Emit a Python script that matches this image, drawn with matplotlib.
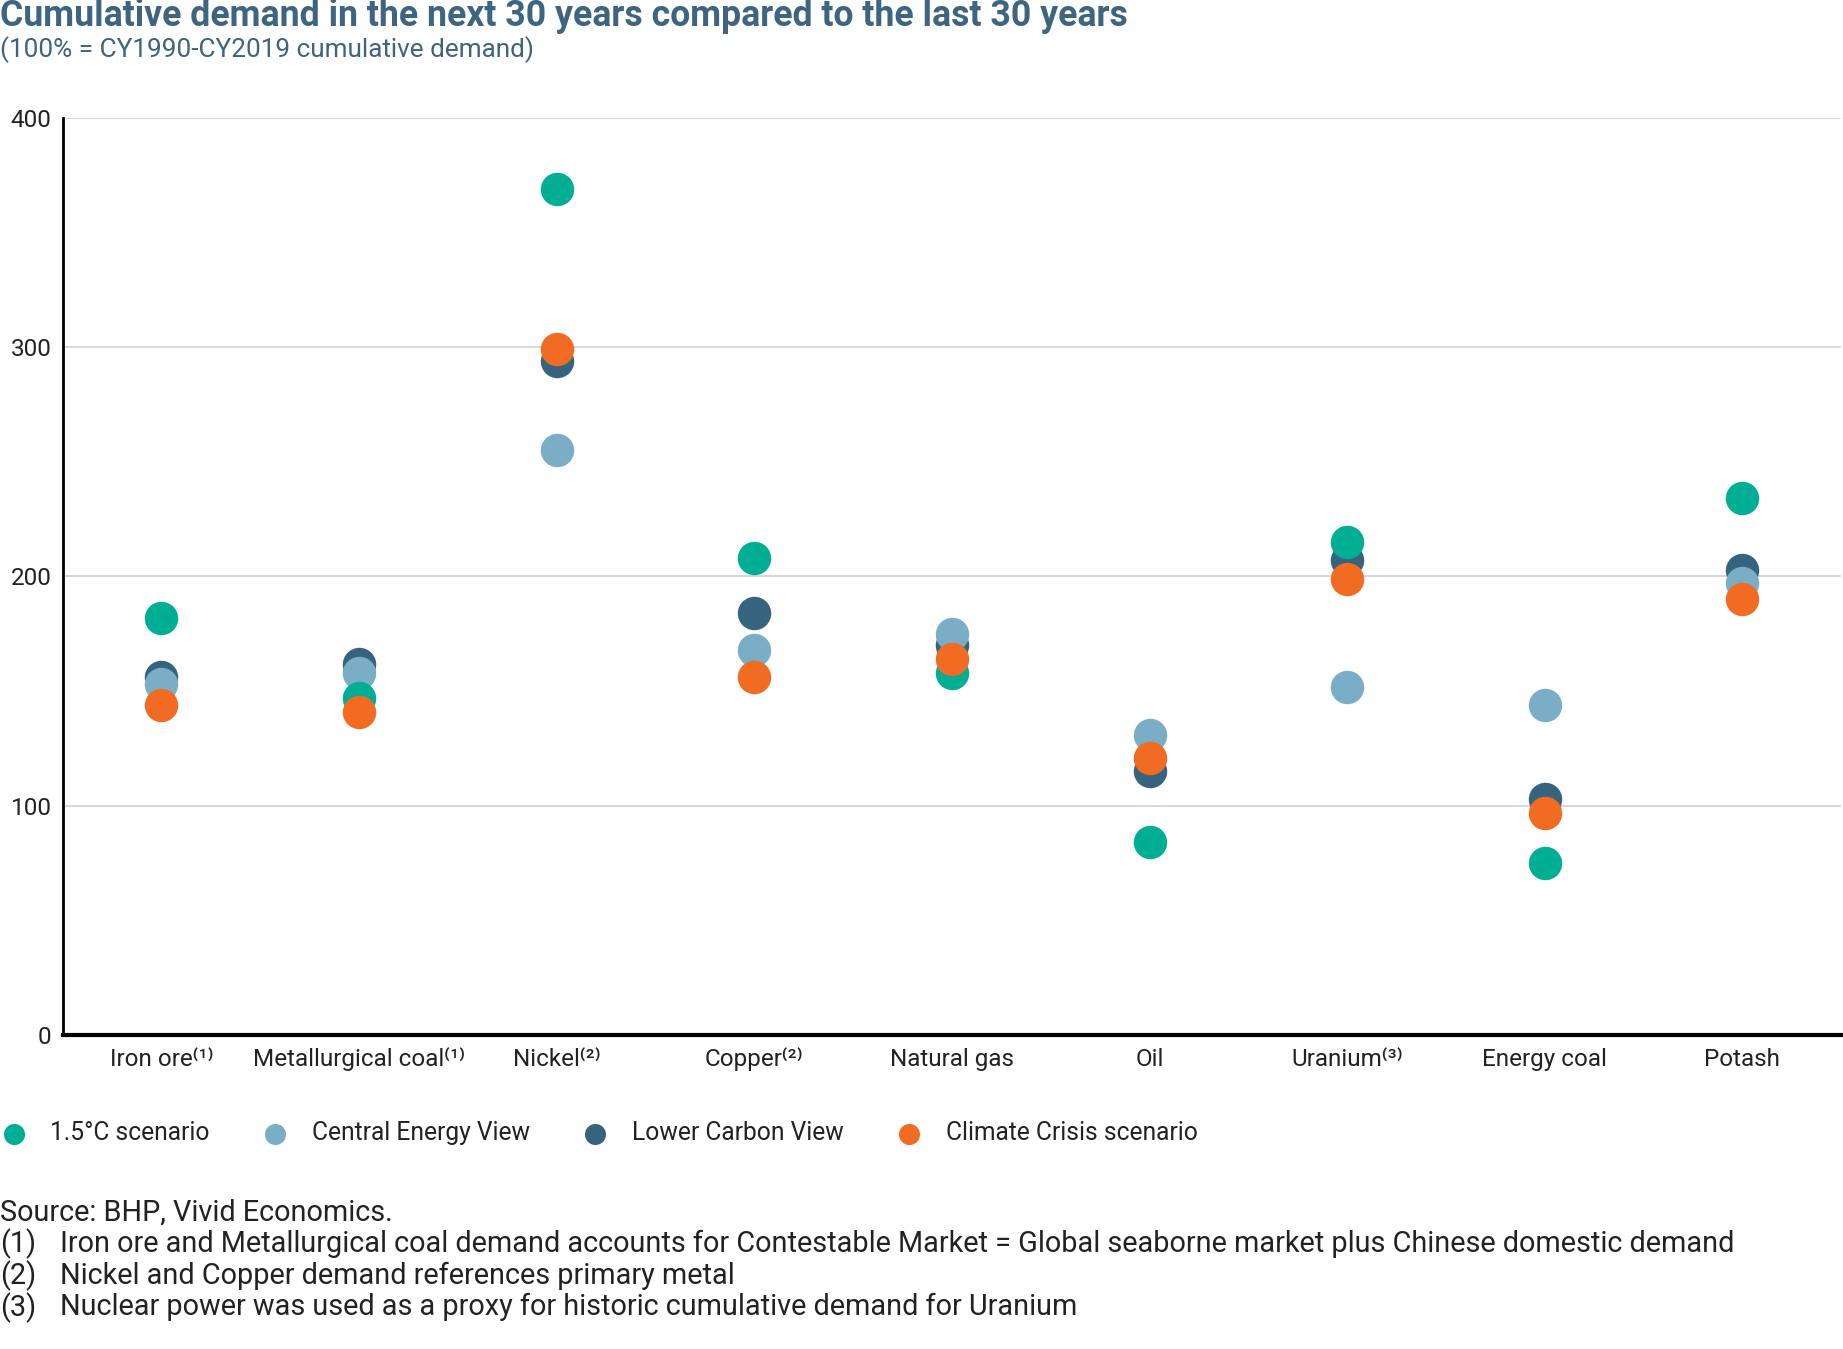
import matplotlib
matplotlib.use("Agg")
import matplotlib.pyplot as plt

plt.rcParams['font.family'] = ['Roboto', 'DejaVu Sans']

# categories along the x axis
categories = ["Iron ore⁽¹⁾", "Metallurgical coal⁽¹⁾", "Nickel⁽²⁾", "Copper⁽²⁾",
              "Natural gas", "Oil", "Uranium⁽³⁾", "Energy coal", "Potash"]

# % of CY1990-CY2019 cumulative demand, per scenario
lower_carbon = [156, 162, 294, 184, 170, 115, 207, 103, 203]
central_energy = [153, 158, 255, 168, 175, 131, 152, 144, 197]
scenario_15 = [182, 147, 369, 208, 158, 84, 215, 75, 234]
climate_crisis = [144, 141, 299, 156, 164, 121, 199, 97, 190]

yticks = [0, 100, 200, 300, 400]

teal = "#00AE94"
light = "#7AAEC6"
dark = "#36647E"
orange = "#F26B22"
title_col = "#3D6480"
txt = "#222222"

fig = plt.figure(figsize=(18.43, 13.49), dpi=100)
ax = fig.add_axes([0.034, 0.2327, 0.965, 0.68])

x = list(range(len(categories)))
size = 580
# draw order matters for overlaps
h_dark = ax.scatter(x, lower_carbon, s=size, color=dark, zorder=3, linewidths=0)
h_light = ax.scatter(x, central_energy, s=size, color=light, zorder=4, linewidths=0)
h_teal = ax.scatter(x, scenario_15, s=size, color=teal, zorder=5, linewidths=0)
h_orange = ax.scatter(x, climate_crisis, s=size, color=orange, zorder=6, linewidths=0)

ax.set_xlim(-0.5, len(categories) - 0.5)
ax.set_ylim(0, 400)
ax.set_yticks(yticks)
ax.set_yticklabels([str(t) for t in yticks], fontsize=17.5, color=txt)
ax.set_xticks(x)
ax.set_xticklabels(categories, fontsize=17.5, color=txt)
ax.tick_params(axis='x', length=0, pad=9)
ax.tick_params(axis='y', length=0, pad=8)
ax.yaxis.grid(True, color="#cfcfcf", linewidth=1.2, zorder=0)
ax.set_axisbelow(True)

ax.spines['top'].set_visible(False)
ax.spines['right'].set_visible(False)
ax.spines['left'].set_linewidth(2)
ax.spines['bottom'].set_linewidth(3)
ax.spines['left'].set_color("black")
ax.spines['bottom'].set_color("black")

fig.text(0.0, 0.9878, "Cumulative demand in the next 30 years compared to the last 30 years",
         fontsize=25.7, fontweight='bold', color=title_col, va='center', ha='left')
fig.text(0.0, 0.963, "(100% = CY1990-CY2019 cumulative demand)",
         fontsize=18.8, color=title_col, va='center', ha='left')

leg = fig.legend([h_teal, h_light, h_dark, h_orange],
                 ["1.5°C scenario", "Central Energy View", "Lower Carbon View", "Climate Crisis scenario"],
                 loc='center left', bbox_to_anchor=(0.0022, 0.160), ncol=4, frameon=False,
                 fontsize=17.7, markerscale=0.63, handletextpad=1.08, columnspacing=2.27,
                 handlelength=0.8, borderpad=0, borderaxespad=0)
for t in leg.get_texts():
    t.set_color(txt)

fig.text(0.0, 0.101, "Source: BHP, Vivid Economics.", fontsize=20.8, color=txt, va='center')
notes = ["Iron ore and Metallurgical coal demand accounts for Contestable Market = Global seaborne market plus Chinese domestic demand",
         "Nickel and Copper demand references primary metal",
         "Nuclear power was used as a proxy for historic cumulative demand for Uranium"]
note_y = [0.078, 0.054, 0.031]
for i, (n, yy) in enumerate(zip(notes, note_y)):
    fig.text(0.0, yy, f"({i + 1})", fontsize=20.8, color=txt, va='center')
    fig.text(0.0325, yy, n, fontsize=20.8, color=txt, va='center')

fig.savefig("out.png", dpi=100)
